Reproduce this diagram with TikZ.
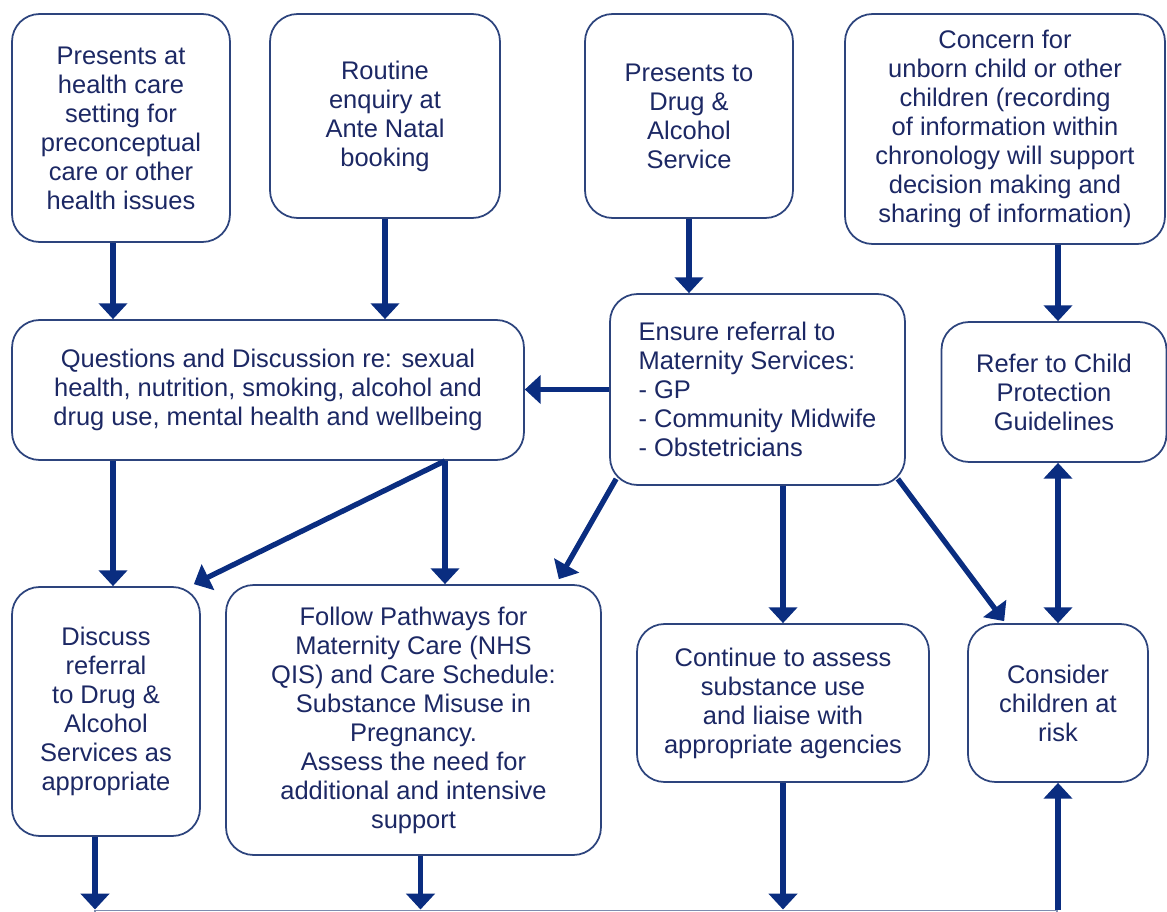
\documentclass[tikz,border=0pt]{standalone}
\usepackage{fontspec}
\setmainfont{Liberation Sans}
\usepackage{xcolor}
\usetikzlibrary{arrows.meta, calc}

\definecolor{arrowblue}{RGB}{10,45,128}
\definecolor{boxline}{RGB}{45,68,125}
\definecolor{textblue}{RGB}{28,40,100}
\definecolor{nextline}{RGB}{125,140,175}

\begin{document}
\begin{tikzpicture}[
  x=0.02cm, y=-0.02cm,
  >={Triangle[width=16pt,length=9pt]},
  box/.style={draw=boxline, line width=1pt, rounded corners=0.55cm, align=center,
    text=textblue, font=\fontsize{14.5}{16.5}\selectfont, inner sep=2pt},
  edge/.style={->, line width=3pt, draw=arrowblue}
]
\clip (0,0) rectangle (1167,912);

% entry points
\node[box, minimum width=4.36cm, minimum height=4.56cm] (hc) at (121,128)
  {Presents at\\health care\\setting for\\preconceptual\\care or other\\health issues};
\node[box, minimum width=4.60cm, minimum height=4.08cm] (anb) at (385,116)
  {Routine\\enquiry at\\Ante Natal\\booking};
\node[box, minimum width=4.16cm, minimum height=4.08cm] (das) at (689,116)
  {Presents to\\Drug \&\\Alcohol\\Service};
\node[box, minimum width=6.40cm, minimum height=4.60cm] (concern) at (1005,129)
  {Concern for\\unborn child or other\\children (recording\\of information within\\chronology will support\\decision making and\\sharing of information)};

% middle row
\node[box, minimum width=10.24cm, minimum height=2.80cm] (disc) at (268,390)
  {Questions and Discussion re: sexual\\health, nutrition, smoking, alcohol and\\drug use, mental health and wellbeing};
\node[box, align=left, minimum width=5.90cm, minimum height=3.82cm] (refer) at (757.5,389.5)
  {Ensure referral to\\Maternity Services:\\- GP\\- Community Midwife\\- Obstetricians};
\node[box, minimum width=4.50cm, minimum height=2.80cm] (cpg) at (1054,392)
  {Refer to Child\\Protection\\Guidelines};

% bottom row
\node[box, minimum width=3.76cm, minimum height=4.98cm] (drug) at (106,711.5)
  {Discuss\\referral\\to Drug \&\\Alcohol\\Services as\\appropriate};
\node[box, minimum width=7.50cm, minimum height=5.40cm] (path) at (413.5,720)
  {Follow Pathways for\\Maternity Care (NHS\\QIS) and Care Schedule:\\Substance Misuse in\\Pregnancy.\\Assess the need for\\additional and intensive\\support};
\node[box, minimum width=5.84cm, minimum height=3.16cm] (assess) at (783,703)
  {Continue to assess\\substance use\\and liaise with\\appropriate agencies};
\node[box, minimum width=3.60cm, minimum height=3.16cm] (risk) at (1058,703)
  {Consider\\children at\\risk};

% next stage, cut off at the page edge
\node[draw=nextline, line width=0.8pt, minimum width=19.24cm, minimum height=2cm,
  inner sep=0pt, anchor=north] (next) at (576,909.5) {};

\coordinate (hcs) at ($(hc.south)+(-8,0)$);
\coordinate (cons) at (concern.south -| risk.north);
\coordinate (discd) at ($(drug.north)+(7,0)$);
\coordinate (discp) at ($(disc.south)+(177,0)$);
\coordinate (drugs) at ($(drug.south)+(-11,0)$);
\coordinate (paths) at ($(path.south)+(7,0)$);

\draw[edge] (hcs) -- (hcs |- disc.north);
\draw[edge] (anb.south) -- (anb.south |- disc.north);
\draw[edge] (das.south) -- (das.south |- refer.north);
\draw[edge] (cons) -- (cons |- cpg.north);
\draw[edge] (refer.west) -- (refer.west -| disc.east);
\draw[edge] (disc.south -| discd) -- (discd);
\draw[edge] (discp) -- ($(drug.north east)+(-7,-2)$);
\draw[edge] (discp) -- (discp |- path.north);
\draw[edge] ($(refer.south west)+(7,-7)$) -- ($(path.north east)+(-43,-5)$);
\draw[edge] (refer.south -| assess.north) -- (assess.north);
\draw[edge] ($(refer.south east)+(-8,-7)$) -- ($(risk.north west)+(37,-2)$);
\draw[edge, <->] (cpg.south -| risk.north) -- (risk.north);
\draw[edge] (drugs) -- (drugs |- next.north);
\draw[edge] (paths) -- (paths |- next.north);
\draw[edge] (assess.south) -- (assess.south |- next.north);
\draw[edge] (next.north -| risk.south) -- (risk.south);
\end{tikzpicture}
\end{document}
